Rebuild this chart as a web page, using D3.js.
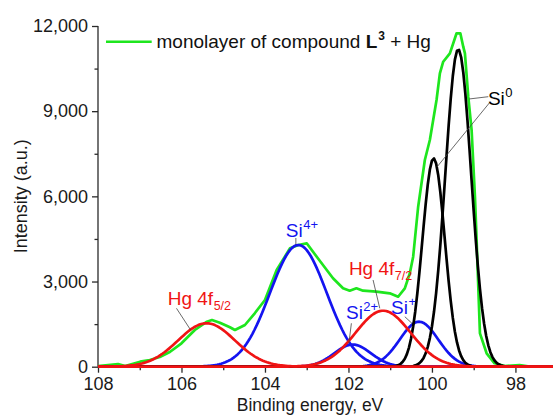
<!DOCTYPE html>
<html>
<head>
<meta charset="utf-8">
<script src="https://cdn.jsdelivr.net/npm/d3@7"></script>
<style>
  html, body { margin: 0; padding: 0; background: #fff; }
  svg { display: block; font-family: "Liberation Sans", Arial, sans-serif; }
</style>
</head>
<body>
<svg id="chart" width="553" height="416"></svg>
<script>
// Measured spectrum: binding energy (eV) and intensity (a.u.)
const spectrumEnergy = [108.0, 107.52, 107.35, 106.99, 106.76, 106.52, 106.28, 106.0, 105.68, 105.39,
  105.27, 105.08, 104.84, 104.72, 104.48, 104.24, 104.0, 103.72, 103.4, 103.2,
  103.0, 102.76, 102.52, 102.37, 102.13, 101.97, 101.81, 101.65, 101.33, 101.01,
  100.81, 100.65, 100.53, 100.45, 100.33, 100.17, 100.05, 99.89, 99.81, 99.73,
  99.57, 99.41, 99.32, 99.25, 99.21, 99.13, 99.05, 98.97, 98.93, 98.85,
  98.69, 98.5, 98.26, 97.9, 97.66, 97.1];
const spectrumIntensity = [25, 95, 20, 176, 236, 340, 518, 824, 1293, 1585,
  1645, 1550, 1388, 1293, 1469, 1891, 2349, 3406, 4170, 4286,
  4346, 3874, 3406, 3114, 2761, 2677, 2761, 2677, 2642, 2585,
  2465, 2761, 3290, 3874, 5635, 7280, 7985, 9394, 10334, 10742,
  11038, 11743, 11743, 11271, 11038, 9510, 8337, 5988, 4462, 1176,
  472, 120, 25, 60, 7, 0];

// Fitted Gaussian components: centre (eV), height (a.u.), sigma (eV)
const componentNames   = ["Hg 4f5/2", "Si4+", "Si2+", "Hg 4f7/2", "Si+", "Si0 a", "Si0 b"];
const componentCenter  = [105.40, 103.20, 101.90, 101.17, 100.31, 99.96, 99.37];
const componentHeight  = [1530, 4287, 780, 1972, 1585, 7340, 11180];
const componentSigma   = [0.68, 0.68, 0.44, 0.66, 0.46, 0.27, 0.31];
const componentGroup   = ["hg", "si", "si", "hg", "si", "si0", "si0"];

// Axis ticks
const xMajorTicks = [108, 106, 104, 102, 100, 98];
const xMinorTicks = [107, 105, 103, 101, 99, 97];
const yMajorTicks = [0, 3000, 6000, 9000, 12000];
const yMinorTicks = [1500, 4500, 7500, 10500];

const colors = { spectrum: "#1ee61e", si: "#1414f0", hg: "#f01414", si0: "#000000" };

const svg = d3.select("#chart");
const x = d3.scaleLinear().domain([108, 97.1]).range([98, 553]);
const y = d3.scaleLinear().domain([0, 12000]).range([366.7, 26]);

// Axes
const axisColor = "#2a2a2a";
const fmt = d3.format(",");

const gx = svg.append("g").attr("transform", `translate(0,${y(0)})`);
gx.call(d3.axisBottom(x).tickValues(xMajorTicks).tickFormat(d3.format("d")).tickSize(6).tickPadding(4.5));
gx.append("g").call(d3.axisBottom(x).tickValues(xMinorTicks).tickFormat("").tickSize(3.5))
  .select(".domain").remove();

const gy = svg.append("g").attr("transform", `translate(${x(108)},0)`);
gy.call(d3.axisLeft(y).tickValues(yMajorTicks).tickFormat(fmt).tickSize(6).tickPadding(4));
gy.append("g").call(d3.axisLeft(y).tickValues(yMinorTicks).tickFormat("").tickSize(3.5))
  .select(".domain").remove();

gx.select(".domain").remove();
gy.select(".domain").remove();
gx.append("line").attr("x1", x(108)).attr("x2", 553).attr("y1", 0).attr("y2", 0);
gy.append("line").attr("x1", 0).attr("x2", 0).attr("y1", y(12000)).attr("y2", y(0));

svg.selectAll("g line").attr("stroke", axisColor).attr("stroke-width", 1.3);
svg.selectAll(".tick text")
  .attr("font-size", 18).attr("fill", "#1a1a1a")
  .attr("font-family", "'Liberation Sans', Arial, sans-serif");

// Axis titles
svg.append("text")
  .attr("x", 310).attr("y", 410.5)
  .attr("text-anchor", "middle").attr("font-size", 17.5).attr("fill", "#1a1a1a")
  .text("Binding energy, eV");
svg.append("text")
  .attr("transform", `translate(26.5,${(y(0) + y(12000)) / 2}) rotate(-90)`)
  .attr("text-anchor", "middle").attr("font-size", 18).attr("fill", "#1a1a1a")
  .text("Intensity (a.u.)");

const line = d3.line().x(d => x(d[0])).y(d => y(d[1]));
const plot = svg.append("g");

// Measured spectrum
plot.append("path")
  .datum(spectrumEnergy.map((e, i) => [e, spectrumIntensity[i]]))
  .attr("fill", "none").attr("stroke", colors.spectrum)
  .attr("stroke-width", 2.7).attr("stroke-linejoin", "round")
  .attr("d", line);

// Component curves, evaluated from the fit parameters across the axis range
const energyGrid = d3.range(108, 97.09, -0.05);
function componentPoints(i) {
  return energyGrid.map(e => [e,
    componentHeight[i] * Math.exp(-((e - componentCenter[i]) ** 2) / (2 * componentSigma[i] ** 2))]);
}
const drawOrder = [1, 2, 4, 5, 6, 0, 3];
drawOrder.forEach(i => {
  plot.append("path")
    .datum(componentPoints(i))
    .attr("fill", "none").attr("stroke", colors[componentGroup[i]])
    .attr("stroke-width", 2.7).attr("stroke-linejoin", "round")
    .attr("d", line);
});

// Leader lines from labels to peaks: [E1, I1, E2, I2]
const leaders = [
  [103.26, 4533, 103.26, 4305],
  [101.93, 1529, 101.99, 824],
  [100.65, 1761, 100.48, 1529],
  [101.41, 3054, 101.25, 2057],
  [106.12, 2057, 105.78, 1292],
  [98.65, 9510, 99.11, 9429],
  [98.62, 9298, 99.88, 7034]
];
svg.append("g").selectAll("line").data(leaders).join("line")
  .attr("x1", d => x(d[0])).attr("y1", d => y(d[1]))
  .attr("x2", d => x(d[2])).attr("y2", d => y(d[3]))
  .attr("stroke", "#444").attr("stroke-width", 0.8);

// Peak labels
function label(e, inten, main, small, mode, color) {
  const t = svg.append("text")
    .attr("x", x(e)).attr("y", y(inten))
    .attr("font-size", 19).attr("fill", color);
  t.append("tspan").text(main);
  if (mode === "sup") {
    t.append("tspan").attr("font-size", 13).attr("dy", -8).attr("dx", 0.5).text(small);
  } else {
    t.append("tspan").attr("font-size", 12.5).attr("dy", 5).attr("dx", 0.5).text(small);
  }
}
label(103.50, 4579, "Si", "4+", "sup", colors.si);
label(102.06, 1670, "Si", "2+", "sup", colors.si);
label(100.98, 1846, "Si", "+", "sup", colors.si);
label(98.66, 9217, "Si", "0", "sup", "#000");
label(101.99, 3230, "Hg 4f", "7/2", "sub", colors.hg);
label(106.33, 2173, "Hg 4f", "5/2", "sub", colors.hg);

// Legend
svg.append("line")
  .attr("x1", 106).attr("x2", 151.7).attr("y1", 41.7).attr("y2", 41.7)
  .attr("stroke", colors.spectrum).attr("stroke-width", 2.6);
const lt = svg.append("text").attr("x", 156.5).attr("y", 48.3)
  .attr("font-size", 19).attr("fill", "#111");
lt.append("tspan").text("monolayer of compound ");
lt.append("tspan").attr("font-weight", "bold").text("L");
lt.append("tspan").attr("font-size", 12).attr("font-weight", "bold").attr("dy", -8).attr("dx", 1).text("3");
lt.append("tspan").attr("dy", 8).text(" + Hg");
</script>
</body>
</html>
